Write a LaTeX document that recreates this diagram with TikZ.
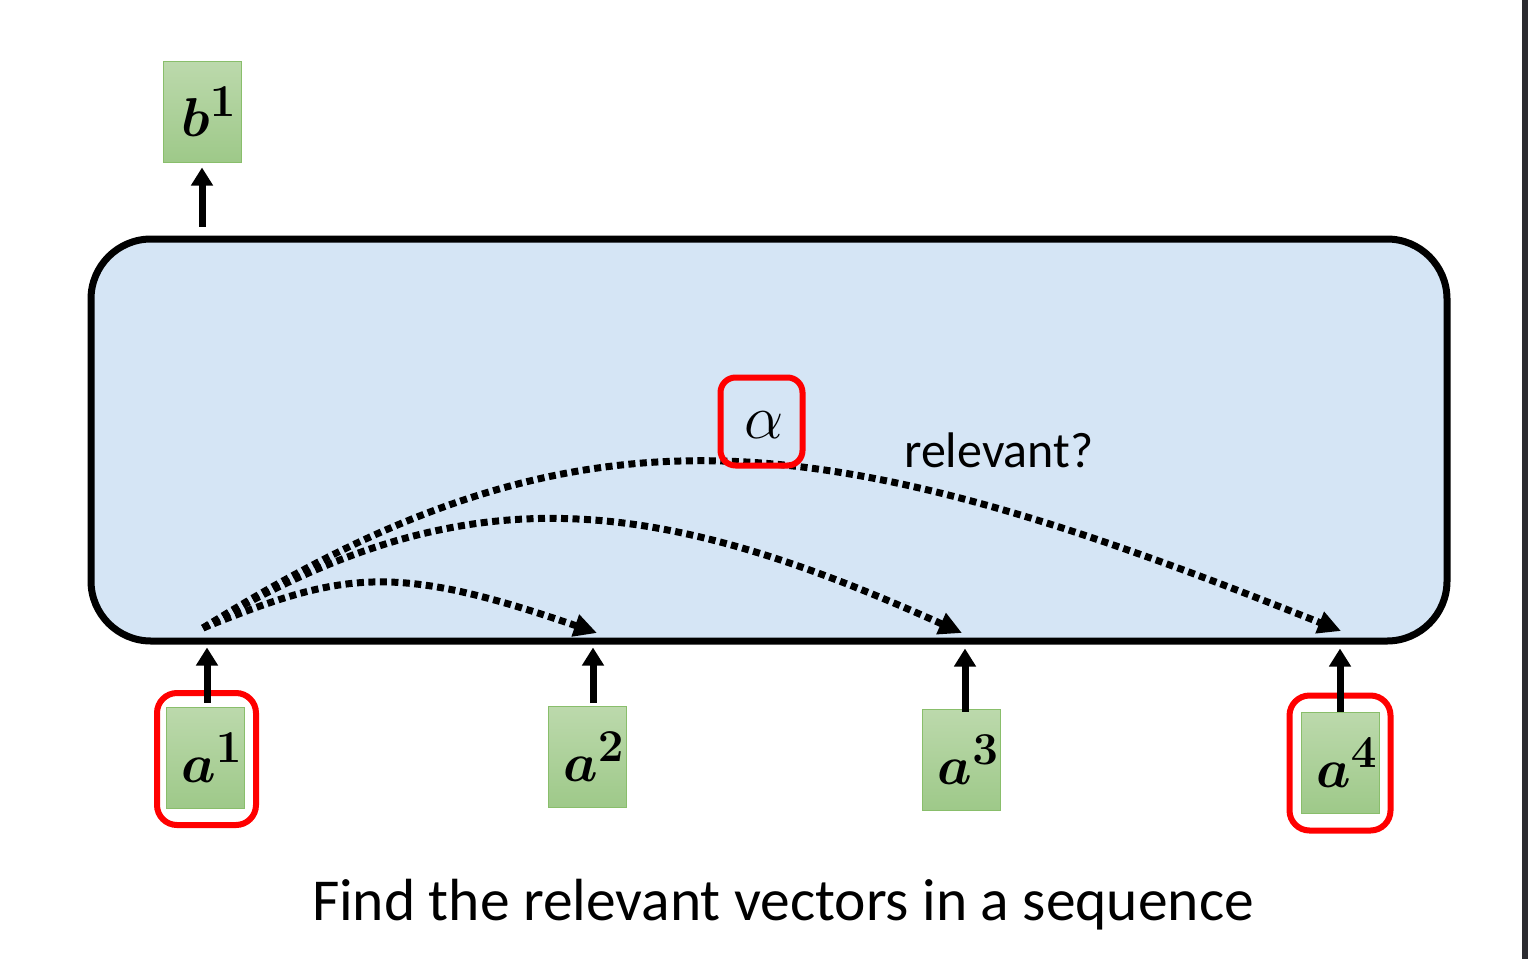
\documentclass[tikz,border=0pt]{standalone}
\usepackage{graphicx}
\usepackage{bm}
\usepackage{fontspec}
\setmainfont{Carlito}
\usetikzlibrary{arrows.meta,calc}
\definecolor{gTop}{RGB}{188,217,172}
\definecolor{gBot}{RGB}{158,201,137}
\definecolor{gEdge}{RGB}{137,190,107}
\definecolor{boxBlue}{RGB}{213,229,245}
\definecolor{barGray}{RGB}{43,43,48}
\newcommand{\bigmath}[1]{\kern14pt\scalebox{2.2}{\fontsize{24.88}{30}\selectfont$#1$}}
\tikzset{
  vec/.style={draw=gEdge, line width=1pt, top color=gTop, bottom color=gBot,
    minimum width=78pt, minimum height=101pt, inner sep=0pt},
  redframe/.style={draw=red, line width=6pt, rounded corners=20pt, inner sep=0pt},
  arr/.style={line width=7pt, -{Triangle[length=18pt,width=21pt]}},
  dotarr/.style={line width=7pt, dash pattern=on 7pt off 4.5pt,
    -{Triangle[length=23pt,width=22pt]}},
  mainbox/.style={draw, line width=7pt, fill=boxBlue, rounded corners=60pt,
    minimum width=1356pt, minimum height=402pt, inner sep=0pt}
}
\begin{document}
\begin{tikzpicture}[x=1pt,y=-1pt]
\useasboundingbox (0,0) rectangle (1528,959);
\fill[white] (0,0) rectangle (1528,959);
\fill[barGray] (1522,0) rectangle (1528,959);

\node[mainbox] (main) at (769,440) {};

\node[vec] (b1) at (202,111.5) {\bigmath{\bm{b}^{\bm{1}}}};
\node[vec] (a1) at (205,757.5) {\bigmath{\bm{a}^{\bm{1}}}};
\node[vec] (a2) at (587,757) {\bigmath{\bm{a}^{\bm{2}}}};
\node[vec] (a3) at (961.5,759.5) {\bigmath{\bm{a}^{\bm{3}}}};
\node[vec] (a4) at (1340,762.5) {\bigmath{\bm{a}^{\bm{4}}}};

\node[redframe, minimum width=99pt, minimum height=132pt] (r1) at (206.5,759) {};
\node[redframe, minimum width=101pt, minimum height=135pt] (r4) at (1340,763) {};

% vertical arrows
\draw[arr] ([yshift=9pt]b1.south |- main.north) -- ([yshift=-5pt]b1.south);
\draw[arr] ([xshift=2pt,yshift=4pt]a1.north) -- ([xshift=2pt,yshift=-3pt]a1.north |- main.south);
\draw[arr] ([xshift=6pt,yshift=3pt]a2.north) -- ([xshift=6pt,yshift=-3pt]a2.north |- main.south);
\draw[arr] ([xshift=3.5pt,yshift=-3pt]a3.north) -- ([xshift=3.5pt,yshift=-4pt]a3.north |- main.south);
\draw[arr] (a4.north) -- ([yshift=-4pt]a4.north |- main.south);

% dotted attention curves
\coordinate (src) at (203,628);
\coordinate (e2) at (597,633);
\coordinate (e3) at (962,633);
\coordinate (e4) at (1341,631);
\draw[dotarr] (src) .. controls (342,572) and (392,562) .. (e2);
\draw[dotarr] (src) .. controls (461,475) and (644,490) .. (e3);
\draw[dotarr] (src) .. controls (586,389) and (820,423) .. (e4);

% alpha
\node[inner sep=0pt] (al) at (764,425) {\scalebox{2.5}{\fontsize{23}{28}\selectfont$\alpha$}};
\node[draw=red, line width=6pt, rounded corners=15pt, minimum width=82pt, minimum height=88pt, inner sep=0pt] (ra) at (761.5,421.5) {};

\node[anchor=base west, font=\fontsize{50}{56}\selectfont, inner sep=0pt] (rel) at (904,467) {relevant?};

\node[anchor=base, font=\fontsize{59.5}{70}\selectfont, inner sep=0pt] (cap) at (783,920) {Find the relevant vectors in a sequence};
\end{tikzpicture}
\end{document}
